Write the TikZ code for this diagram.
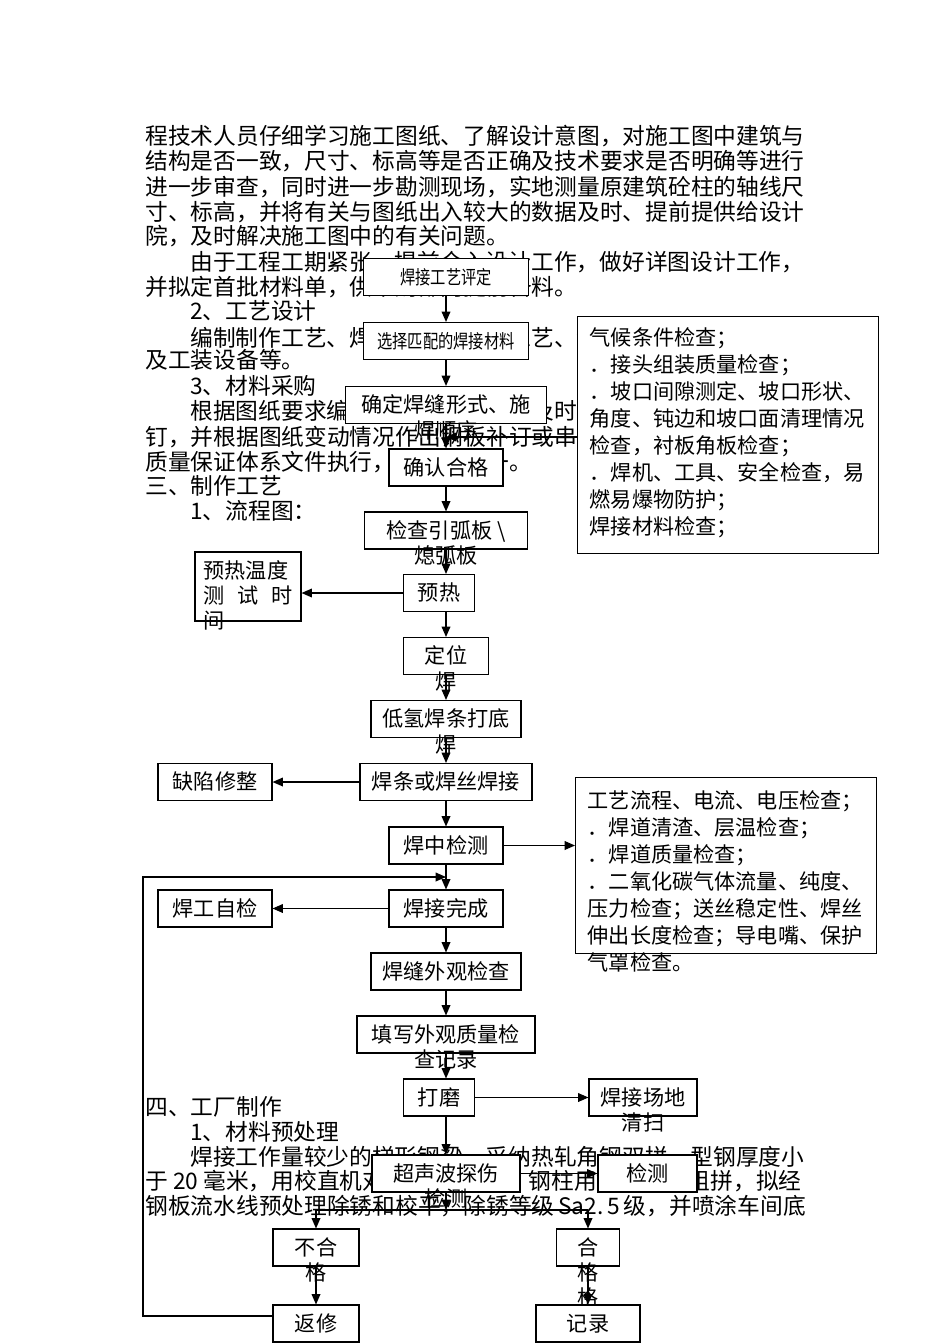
\documentclass[tikz,border=0pt]{standalone}
\usepackage{fontspec}
\setmainfont{Noto Sans CJK SC}
\newfontfamily\narrowcjk[FakeStretch=0.8]{Noto Sans CJK SC}
\usetikzlibrary{arrows.meta}

\newcommand\txtfont{\fontsize{14.3pt}{15.7pt}\selectfont}
\newcommand\boxtxt{\fontsize{13.3pt}{15.5pt}\selectfont}
\newcommand\narrowtxt{\narrowcjk\fontsize{12pt}{14pt}\selectfont}
\newcommand\notetxt{\fontsize{13.3pt}{17pt}\selectfont}
\newcommand\pxu{0.6289pt}
\newcommand\flowlines[1]{\begin{tabular}[t]{@{}c@{}}#1\end{tabular}}

\tikzset{
  body/.style={anchor=west, inner sep=0pt, font=\txtfont, text height=10.6pt, text depth=0pt},
  flowbox/.style={draw, fill=white, line width=0.7pt, inner sep=0pt, minimum height=37*\pxu,
    text height=10pt, text depth=0pt, font=\boxtxt},
  thinbox/.style={flowbox, font=\narrowtxt},
  notebox/.style={draw, fill=white, line width=0.7pt, inner xsep=12*\pxu, inner ysep=0pt,
    anchor=north west, minimum width=301*\pxu, font=\notetxt},
  link/.style={line width=0.7pt},
}

\begin{document}
\begin{tikzpicture}[x=0.6289pt, y=-0.6289pt, >={Triangle[length=6.5pt,width=5.5pt]}]
	\useasboundingbox (0,0) rectangle (950,1344);

	\coordinate (tap) at (446,437);
	\coordinate (fork) at (446,1210);
	\coordinate (loopin) at (446,877);
	\coordinate (loopleft) at (143,877);

	% 正文
	\node[body] (t1) at (145,136) {程技术人员仔细学习施工图纸、了解设计意图，对施工图中建筑与};
	\node[body] (t2) at (145,161) {结构是否一致，尺寸、标高等是否正确及技术要求是否明确等进行};
	\node[body] (t3) at (145,187) {进一步审查，同时进一步勘测现场，实地测量原建筑砼柱的轴线尺};
	\node[body] (t4) at (145,212) {寸、标高，并将有关与图纸出入较大的数据及时、提前提供给设计};
	\node[body] (t5) at (145,236) {院，及时解决施工图中的有关问题。};
	\node[body] (t6) at (190,262) {由于工程工期紧张，提前介入设计工作，做好详图设计工作，};
	\node[body] (t7) at (145,287) {并拟定首批材料单，供采购部门提前备料。};
	\node[body] (t8) at (190,311) {2、工艺设计};
	\node[body] (t9) at (190,338) {编制制作工艺、焊接工艺、组装工艺、涂装工艺、包装工艺以};
	\node[body] (t10) at (145,360) {及工装设备等。};
	\node[body] (t11) at (190,386) {3、材料采购};
	\node[body] (t12) at (190,411) {根据图纸要求编制材料采购计划，及时订购钢材、高强螺栓、栓};
	\node[body] (t13) at (145,437) {钉，并根据图纸变动情况作出钢板补订或串换，确保材料采购按照};
	\node[body] (t14) at (145,462) {质量保证体系文件执行，严把质量一。};
	\node[body] (t15) at (145,486) {三、制作工艺};
	\node[body] (t16) at (190,511) {1、流程图：};
	\node[body] (t17) at (145,1107) {四、工厂制作};
	\node[body] (t18) at (190,1132) {1、材料预处理};
	\node[body] (t19) at (190,1157) {焊接工作量较少的梯形钢梁，采纳热轧角钢双拼，型钢厚度小};
	\node[body] (t20) at (145,1181) {于 20 毫米，用校直机对其进行校正；\hspace{0.3em}钢柱用钢板焊接组拼，拟经};
	\node[body] (t21) at (145,1206) {钢板流水线预处理除锈和校平，除锈等级\,Sa2.\,5\,级，并喷涂车间底};

	% 流程框
	\node[thinbox, minimum width=165*\pxu] (pd) at (446,277) {焊接工艺评定};
	\node[thinbox, minimum width=165*\pxu] (xc) at (446,341) {选择匹配的焊接材料};
	\node[flowbox, minimum width=201*\pxu] (qd) at (446,405) {\flowlines{确定焊缝形式、施\\焊顺序}};
	\node[flowbox, minimum width=114*\pxu] (qr) at (446,467.5) {确认合格};
	\node[flowbox, minimum width=163*\pxu] (jh) at (446,530.5) {\flowlines{检查引弧板 \textbackslash\\熄弧板}};
	\node[flowbox, minimum width=71*\pxu] (yr) at (439,593) {预热};
	\node[flowbox, minimum width=106*\pxu, text height=16.4pt, text depth=27pt] (wd) at (248,586.5)
		{\begin{tabular}[t]{@{}l@{}}预热温度\\测\hspace{8pt}试\hspace{8pt}时\\间\end{tabular}};
	\node[flowbox, minimum width=85*\pxu] (dw) at (446,656) {\flowlines{定位\\焊}};
	\node[flowbox, minimum width=150*\pxu] (dd) at (446,719) {\flowlines{低氢焊条打底\\焊}};
	\node[flowbox, minimum width=172*\pxu] (hj) at (446,782) {焊条或焊丝焊接};
	\node[flowbox, minimum width=114*\pxu] (qx) at (215,782) {缺陷修整};
	\node[flowbox, minimum width=114*\pxu] (hz) at (446,845.5) {焊中检测};
	\node[flowbox, minimum width=114*\pxu] (wc) at (446,908.5) {焊接完成};
	\node[flowbox, minimum width=114*\pxu] (zj) at (215,908.5) {焊工自检};
	\node[flowbox, minimum width=150*\pxu] (wg) at (446,971.5) {焊缝外观检查};
	\node[flowbox, minimum width=178*\pxu] (tx) at (446,1034.5) {\flowlines{填写外观质量检\\查记录}};
	\node[flowbox, minimum width=71*\pxu] (dm) at (439,1097.5) {打磨};
	\node[flowbox, minimum width=108*\pxu] (qs) at (643,1097.5) {\flowlines{焊接场地\\清扫}};
	\node[flowbox, minimum width=148*\pxu] (cs) at (446,1173.5) {\flowlines{超声波探伤\\检测}};
	\node[flowbox, minimum width=99*\pxu] (jcc) at (647.5,1173.5) {检测};
	\node[flowbox, minimum width=86*\pxu] (bh) at (316,1247.5) {\flowlines{不合\\格}};
	\node[flowbox, minimum width=63*\pxu] (hg) at (588,1247.5) {\flowlines{合\\格\\格}};
	\node[flowbox, minimum width=86*\pxu] (fx) at (316,1323.5) {返修};
	\node[flowbox, minimum width=104*\pxu] (jl) at (588,1323.5) {记录};

	% 检查内容
	\node[notebox, text height=18.2pt, text depth=130.8pt] (chk1) at (577,316) {\parbox[t]{174pt}{%
		气候条件检查；\\
		．接头组装质量检查；\\
		．坡口间隙测定、坡口形状、\\
		角度、钝边和坡口面清理情况\\
		检查，衬板角板检查；\\
		．焊机、工具、安全检查，易\\
		燃易爆物防护；\\
		焊接材料检查；}};
	\node[notebox, text height=19.5pt, text depth=91.2pt] (chk2) at (575,777) {\parbox[t]{174pt}{%
		工艺流程、电流、电压检查；\\
		．焊道清渣、层温检查；\\
		．焊道质量检查；\\
		．二氧化碳气体流量、纯度、\\
		压力检查；送丝稳定性、焊丝\\
		伸出长度检查；导电嘴、保护\\
		气罩检查。}};

	% 箭头
	\draw[link, ->] (pd) -- (xc);
	\draw[link, ->] (xc) -- (qd);
	\draw[link, ->] (qd) -- (qr);
	\draw[link, ->] (chk1.west |- tap) -- (tap);
	\draw[link, ->] (qr) -- (jh);
	\draw[link, ->] (jh.south) -- (jh.south |- yr.north);
	\draw[link, ->] (yr) -- (yr -| wd.east);
	\draw[link, ->] (yr.south -| dw.north) -- (dw.north);
	\draw[link, ->] (dw) -- (dd);
	\draw[link, ->] (dd) -- (hj);
	\draw[link, ->] (hj) -- (qx);
	\draw[link, ->] (hj) -- (hz);
	\draw[link, ->] (hz) -- (hz -| chk2.west);
	\draw[link, ->] (hz) -- (wc);
	\draw[link, ->] (wc) -- (zj);
	\draw[link, ->] (wc) -- (wg);
	\draw[link, ->] (wg) -- (tx);
	\draw[link, ->] (tx.south) -- (tx.south |- dm.north);
	\draw[link, ->] (dm) -- (qs);
	\draw[link, ->] (dm.south -| cs.north) -- (cs.north);
	\draw[link, ->] (cs) -- (jcc);
	\draw[link, ->] (cs) -- (fork);
	\draw[link] (fork -| bh.north) -- (fork -| hg.north);
	\draw[link, ->] (fork -| bh.north) -- (bh.north);
	\draw[link, ->] (fork -| hg.north) -- (hg.north);
	\draw[link, ->] (bh) -- (fx);
	\draw[link, ->] (hg) -- (jl);
	\draw[link, ->] ([yshift=4.7pt]fx.west) -| (loopleft) -- (loopin);
\end{tikzpicture}
\end{document}
